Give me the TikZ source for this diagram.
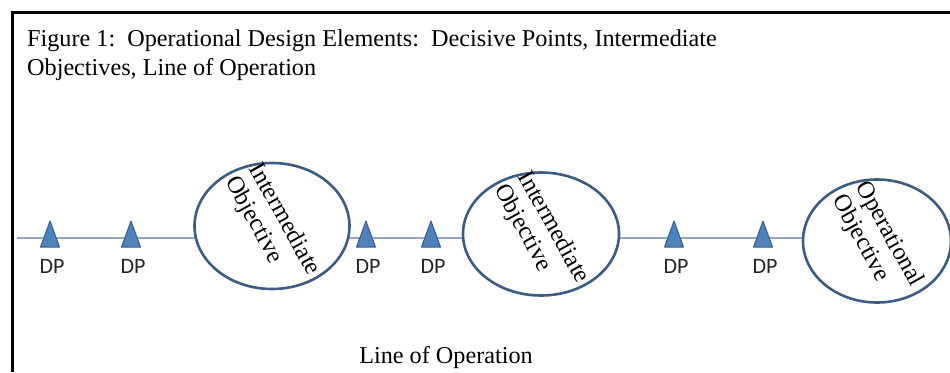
\documentclass[tikz,border=0pt]{standalone}
\usepackage{fontspec}
\setmainfont{Liberation Serif}
\newfontfamily\dpfont{Carlito}
\usepackage{tikz}
\usetikzlibrary{shapes.geometric,positioning}

\definecolor{objline}{HTML}{3B5C84}
\definecolor{trifill}{HTML}{4F81BD}
\definecolor{triline}{HTML}{385D8A}
\definecolor{lopline}{HTML}{8FA7C4}

\tikzset{
  objective/.style={draw=objline,line width=2.6pt,fill=white,ellipse,inner sep=0pt},
  objtext/.style={rotate=-61,align=left,inner sep=0pt,font=\fontsize{24.5}{27}\selectfont},
  dpmark/.style={fill=trifill,draw=triline,line width=1pt,line join=round},
  dplabel/.style={inner sep=0pt,font=\dpfont\fontsize{22}{24}\selectfont,text=black!85},
  serif/.style={inner sep=0pt,font=\fontsize{24.2}{29}\selectfont}
}

\begin{document}
\begin{tikzpicture}[x=1pt,y=-1pt]
    \useasboundingbox (0,0) rectangle (950,372);

    % frame
    \draw[line width=3pt] (12,372) -- (12,12) -- (950,12);

    % title
    \node[serif,anchor=base west] (title1) at (27,46) {Figure 1:\ \ Operational Design Elements:\ \ Decisive Points, Intermediate};
    \node[serif,anchor=base west] (title2) at (27,75) {Objectives, Line of Operation};

    % line of operation
    \coordinate (lopstart) at (17,238);
    \node[objective,minimum width=148,minimum height=123] (obj3) at (877,241) {};
    \draw[lopline,line width=1.5pt] (lopstart) -- (lopstart -| obj3.west);

    \node[objective,minimum width=155,minimum height=126] (obj1) at (272,226) {};
    \node[objective,minimum width=156,minimum height=123] (obj2) at (541,234) {};

    \node[objtext] (obj1text) at (obj1) {Intermediate\\Objective};
    \node[objtext] (obj2text) at (obj2) {Intermediate\\Objective};
    \node[objtext] (obj3text) at (obj3) {Operational\\Objective};

    % decisive points
    \foreach \x [count=\i] in {50,131,366,431,674,763} {
        \draw[dpmark] (\x-9.5,247) -- (\x,221) -- (\x+9.5,247) -- cycle;
        \node[dplabel] (dp\i) at (\x+2,266) {DP};
    }

    \node[serif,anchor=base] (loplabel) at (446,363) {Line of Operation};
\end{tikzpicture}
\end{document}
